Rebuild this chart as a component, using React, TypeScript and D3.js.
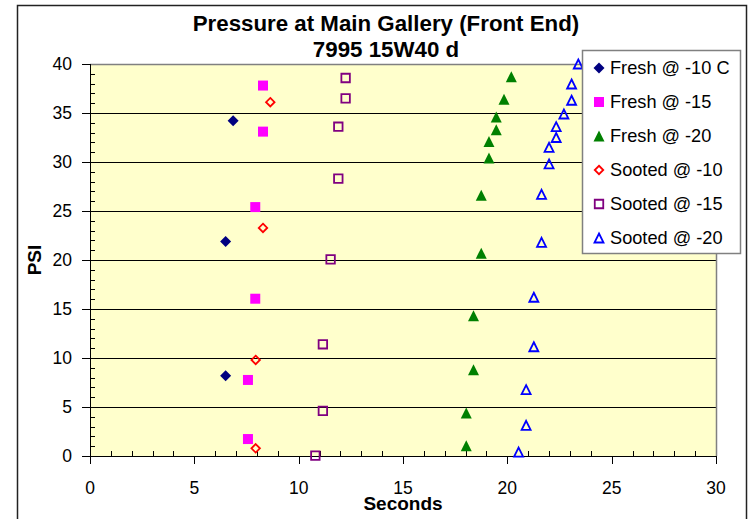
import React from "react";
import * as d3 from "d3";

// Time (s) and pressure (PSI) readings per run
const freshM10Sec = [6.86, 6.5, 6.5];
const freshM10Psi = [34.2, 21.9, 8.2];

const freshM15Sec = [8.29, 8.29, 7.92, 7.92, 7.57, 7.57];
const freshM15Psi = [37.8, 33.1, 25.4, 16.05, 7.76, 1.73];

const freshM20Sec = [20.19, 19.84, 19.47, 19.47, 19.12, 19.12, 18.75, 18.75, 18.38, 18.38, 18.03, 18.03];
const freshM20Psi = [38.7, 36.4, 34.6, 33.3, 32.1, 30.4, 26.6, 20.7, 14.3, 8.8, 4.4, 1.05];

const sootedM10Sec = [8.64, 8.29, 7.94, 7.94];
const sootedM10Psi = [36.1, 23.27, 9.8, 0.78];

const sootedM15Sec = [12.25, 12.25, 11.9, 11.9, 11.53, 11.16, 11.16, 10.8];
const sootedM15Psi = [38.57, 36.5, 33.6, 28.3, 20.07, 11.4, 4.6, 0.03];

const sootedM20Sec = [23.4, 23.08, 23.08, 22.71, 22.34, 22.34, 22.0, 22.0, 21.64, 21.64, 21.27, 21.27, 20.9, 20.9, 20.54];
const sootedM20Psi = [40.0, 37.96, 36.3, 34.9, 33.6, 32.5, 31.5, 29.8, 26.7, 21.8, 16.2, 11.15, 6.77, 3.13, 0.4];

const seriesNames = ["Fresh @ -10 C", "Fresh @ -15", "Fresh @ -20", "Sooted @ -10", "Sooted @ -15", "Sooted @ -20"];
const xTicks = [0, 5, 10, 15, 20, 25, 30];
const yTicks = [0, 5, 10, 15, 20, 25, 30, 35, 40];

const W = 748;
const H = 519;
const FONT = "'Liberation Sans', Arial, sans-serif";

// Marker shapes, drawn centred on their bounding box
const diamondType = {
  draw(ctx: any, size: number) {
    const r = Math.sqrt(size) / 2;
    ctx.moveTo(0, -r);
    ctx.lineTo(r, 0);
    ctx.lineTo(0, r);
    ctx.lineTo(-r, 0);
    ctx.closePath();
  },
};
const squareType = {
  draw(ctx: any, size: number) {
    const r = Math.sqrt(size) / 2;
    ctx.rect(-r, -r, 2 * r, 2 * r);
  },
};
const triangleType = {
  draw(ctx: any, size: number) {
    const r = Math.sqrt(size) / 2;
    ctx.moveTo(0, -r);
    ctx.lineTo(r, r);
    ctx.lineTo(-r, r);
    ctx.closePath();
  },
};

type Series = {
  name: string;
  xs: number[];
  ys: number[];
  type: any;
  size: number;
  fill: string;
  stroke: string;
  strokeWidth: number;
};

const series: Series[] = [
  { name: seriesNames[0], xs: freshM10Sec, ys: freshM10Psi, type: diamondType, size: 121, fill: "#000080", stroke: "none", strokeWidth: 0 },
  { name: seriesNames[1], xs: freshM15Sec, ys: freshM15Psi, type: squareType, size: 100, fill: "#FF00FF", stroke: "none", strokeWidth: 0 },
  { name: seriesNames[2], xs: freshM20Sec, ys: freshM20Psi, type: triangleType, size: 121, fill: "#008000", stroke: "none", strokeWidth: 0 },
  { name: seriesNames[3], xs: sootedM10Sec, ys: sootedM10Psi, type: diamondType, size: 72, fill: "none", stroke: "#FF0000", strokeWidth: 1.8 },
  { name: seriesNames[4], xs: sootedM15Sec, ys: sootedM15Psi, type: squareType, size: 72, fill: "none", stroke: "#800080", strokeWidth: 1.8 },
  { name: seriesNames[5], xs: sootedM20Sec, ys: sootedM20Psi, type: triangleType, size: 81, fill: "none", stroke: "#0000FF", strokeWidth: 1.8 },
];

export default function App() {
  const left = 90;
  const right = 716;
  const top = 64;
  const bottom = 456;

  const x = d3.scaleLinear().domain([0, 30]).range([left, right]);
  const y = d3.scaleLinear().domain([0, 40]).range([bottom, top]);

  const minorX = d3.range(0, 31, 1).filter((v) => v % 5 !== 0);
  const minorY = d3.range(0, 41, 1).filter((v) => v % 5 !== 0);

  const sym = (s: Series) => d3.symbol().type(s.type).size(s.size)() as string;

  const legendX = 582;
  const legendY = 50;
  const legendW = 158;
  const legendH = 203;

  return (
    <svg
      width={W}
      height={H}
      style={{ position: "absolute", left: 0, top: 0, background: "#fff" }}
      fontFamily={FONT}
    >
      {/* chart frame */}
      <rect x={17.5} y={5.5} width={729} height={530} fill="#fff" stroke="#222" strokeWidth={1.5} />

      {/* plot area */}
      <rect x={left} y={top} width={right - left} height={bottom - top} fill="#FFFFCC" />
      {yTicks
        .filter((v) => v > 0 && v < 40)
        .map((v) => (
          <line key={"g" + v} x1={left} x2={right} y1={Math.round(y(v)) + 0.5} y2={Math.round(y(v)) + 0.5} stroke="#000" strokeWidth={1} />
        ))}
      <line x1={left} x2={right} y1={top + 0.5} y2={top + 0.5} stroke="#808080" strokeWidth={1.5} />
      <line x1={right + 0.5} x2={right + 0.5} y1={top} y2={bottom} stroke="#808080" strokeWidth={1.5} />

      {/* axes */}
      <line x1={left + 0.5} x2={left + 0.5} y1={top} y2={bottom} stroke="#000" strokeWidth={1} />
      <line x1={left} x2={right + 1} y1={bottom + 0.5} y2={bottom + 0.5} stroke="#000" strokeWidth={1} />
      {yTicks.map((v) => (
        <g key={"yt" + v}>
          <line x1={left - 8} x2={left} y1={Math.round(y(v)) + 0.5} y2={Math.round(y(v)) + 0.5} stroke="#000" />
          <text x={72} y={y(v) + 6} textAnchor="end" fontSize={17.5} fill="#000">
            {v}
          </text>
        </g>
      ))}
      {minorY.map((v) => (
        <line key={"ym" + v} x1={left} x2={left + 5} y1={Math.round(y(v)) + 0.5} y2={Math.round(y(v)) + 0.5} stroke="#000" />
      ))}
      {xTicks.map((v) => (
        <g key={"xt" + v}>
          <line x1={Math.round(x(v)) + 0.5} x2={Math.round(x(v)) + 0.5} y1={bottom} y2={bottom + 8} stroke="#000" />
          <text x={x(v)} y={494} textAnchor="middle" fontSize={17.5} fill="#000">
            {v}
          </text>
        </g>
      ))}
      {minorX.map((v) => (
        <line key={"xm" + v} x1={Math.round(x(v)) + 0.5} x2={Math.round(x(v)) + 0.5} y1={bottom - 5} y2={bottom} stroke="#000" />
      ))}

      {/* markers */}
      {series.map((s) =>
        s.xs.map((xv, i) => (
          <path
            key={s.name + i}
            d={sym(s)}
            transform={`translate(${x(xv)},${y(s.ys[i])})`}
            fill={s.fill}
            stroke={s.stroke}
            strokeWidth={s.strokeWidth}
          />
        ))
      )}

      {/* titles */}
      <text x={386} y={31} textAnchor="middle" fontSize={22.3} fontWeight="bold" fill="#000">
        Pressure at Main Gallery (Front End)
      </text>
      <text x={386} y={57} textAnchor="middle" fontSize={22.3} fontWeight="bold" fill="#000">
        7995 15W40 d
      </text>
      <text x={403} y={510} textAnchor="middle" fontSize={19} fontWeight="bold" fill="#000">
        Seconds
      </text>
      <text transform="translate(41,260) rotate(-90)" textAnchor="middle" fontSize={19} fontWeight="bold" fill="#000">
        PSI
      </text>

      {/* legend */}
      <rect x={legendX + 0.5} y={legendY + 0.5} width={legendW} height={legendH} fill="#fff" stroke="#808080" strokeWidth={1.5} />
      {series.map((s, i) => {
        const cy = legendY + 18 + i * 34;
        return (
          <g key={"lg" + i}>
            <path d={sym(s)} transform={`translate(${legendX + 17},${cy})`} fill={s.fill} stroke={s.stroke} strokeWidth={s.strokeWidth} />
            <text x={legendX + 28} y={cy + 6} fontSize={18.2} fill="#000">
              {s.name}
            </text>
          </g>
        );
      })}
    </svg>
  );
}
